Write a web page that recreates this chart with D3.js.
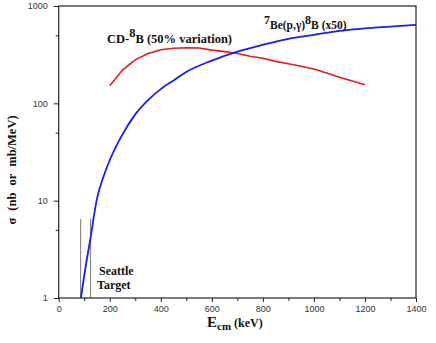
<!DOCTYPE html>
<html lang="en">
<head>
<meta charset="utf-8">
<title>Cross sections</title>
<style>
  html, body { margin: 0; padding: 0; background: white; }
  svg { display: block; }
  .tick text { font-family: "Liberation Sans", Arial, sans-serif; font-size: 9px; fill: #333; }
  .lbl { font-family: "Liberation Serif", "Times New Roman", serif; font-weight: bold; fill: #111; }
</style>
</head>
<body>
<div id="vis"></div>
<script src="https://d3js.org/d3.v7.min.js"></script>
<script>
// energies in keV, cross sections in nb or mb/MeV
var beE   = [87, 100, 125, 150, 175, 200, 250, 300, 350, 400, 450, 500, 600, 700, 800, 900, 1000, 1100, 1200, 1300, 1400];
var beSig = [1, 1.7, 4.2, 10.5, 17.5, 26, 48, 77, 108, 140, 172, 210, 275, 340, 400, 460, 505, 555, 590, 615, 640];

var cdE   = [200, 250, 300, 350, 400, 450, 500, 550, 600, 650, 700, 750, 800, 850, 900, 950, 1000, 1050, 1100, 1150, 1200];
var cdSig = [152, 220, 280, 325, 355, 368, 372, 370, 352, 340, 325, 305, 290, 270, 255, 240, 225, 205, 185, 170, 155];

var targetE = [86, 125];
var targetTop = 6.5;

var xTicks = [0, 200, 400, 600, 800, 1000, 1200, 1400];
var xMinor = [100, 300, 500, 700, 900, 1100, 1300];
var yTicks = [1, 10, 100, 1000];
var yMinor = [5, 50, 500];

var width = 436, height = 343;
var margin = {top: 6, right: 20, bottom: 45, left: 58.7};

var svg = d3.select('#vis').append('svg')
    .attr('width', width)
    .attr('height', height);

var x = d3.scaleLinear().domain([0, 1400]).range([margin.left, width - margin.right]);
var y = d3.scaleLog().domain([1, 1000]).range([height - margin.bottom, margin.top]);

// frame
svg.append('rect')
    .attr('x', x(0)).attr('y', y(1000))
    .attr('width', x(1400) - x(0)).attr('height', y(1) - y(1000))
    .attr('fill', 'none').attr('stroke', '#222').attr('stroke-width', 1.2);

var xAxis = svg.append('g')
    .attr('transform', 'translate(0,' + y(1) + ')')
    .call(d3.axisBottom(x).tickValues(xTicks).tickSize(4).tickPadding(4).tickFormat(d3.format('d')));
xAxis.select('.domain').remove();
xAxis.selectAll('line').attr('stroke', '#222');

svg.append('g')
    .attr('transform', 'translate(0,' + y(1) + ')')
    .call(d3.axisBottom(x).tickValues(xMinor).tickSize(3).tickFormat(''))
    .call(function(g) { g.select('.domain').remove(); g.selectAll('line').attr('stroke', '#222'); });

var yAxis = svg.append('g')
    .attr('transform', 'translate(' + x(0) + ',0)')
    .call(d3.axisLeft(y).tickValues(yTicks).tickSize(5).tickPadding(6).tickFormat(d3.format('d')));
yAxis.select('.domain').remove();
yAxis.selectAll('line').attr('stroke', '#222');

svg.append('g')
    .attr('transform', 'translate(' + x(0) + ',0)')
    .call(d3.axisLeft(y).tickValues(yMinor).tickSize(3).tickFormat(''))
    .call(function(g) { g.select('.domain').remove(); g.selectAll('line').attr('stroke', '#222'); });

// Seattle target lines
svg.selectAll('.target').data(targetE).enter().append('line')
    .attr('x1', function(d) { return x(d); }).attr('x2', function(d) { return x(d); })
    .attr('y1', y(1)).attr('y2', y(targetTop))
    .attr('stroke', '#555').attr('stroke-width', 0.8);

var line = d3.line()
    .x(function(d) { return x(d[0]); })
    .y(function(d) { return y(d[1]); });

svg.append('path')
    .datum(cdE.map(function(e, i) { return [e, cdSig[i]]; }))
    .attr('d', line)
    .attr('fill', 'none').attr('stroke', '#e8191c').attr('stroke-width', 1.6);

svg.append('path')
    .datum(beE.map(function(e, i) { return [e, beSig[i]]; }))
    .attr('d', line.curve(d3.curveMonotoneX))
    .attr('fill', 'none').attr('stroke', '#1a1aff').attr('stroke-width', 1.8);

// labels
var t1 = svg.append('text').attr('class', 'lbl').attr('x', 107).attr('y', 43).attr('font-size', 12.5);
t1.append('tspan').text('CD-');
t1.append('tspan').attr('dy', -6).text('8');
t1.append('tspan').attr('dy', 6).text('B (50% variation)');

var t2 = svg.append('text').attr('class', 'lbl').attr('x', 264).attr('y', 29).attr('font-size', 11.5);
t2.append('tspan').attr('dy', -5).attr('font-size', 12).text('7');
t2.append('tspan').attr('dy', 5).text('Be(p,\u03b3)');
t2.append('tspan').attr('dy', -5).attr('font-size', 12).text('8');
t2.append('tspan').attr('dy', 5).text('B (x50)');

svg.append('text').attr('class', 'lbl').attr('x', 99).attr('y', 275).attr('font-size', 12).text('Seattle');
svg.append('text').attr('class', 'lbl').attr('x', 97).attr('y', 289).attr('font-size', 12).text('Target');

var xt = svg.append('text').attr('class', 'lbl').attr('x', 207).attr('y', 327);
xt.append('tspan').attr('font-size', 15).text('E');
xt.append('tspan').attr('font-size', 11).attr('dy', 3).text('cm');
xt.append('tspan').attr('font-size', 12).attr('dy', -3).attr('dx', 3).text('(keV)');

svg.append('text').attr('class', 'lbl')
    .attr('transform', 'translate(16,170) rotate(-90)')
    .attr('text-anchor', 'middle')
    .attr('font-size', 12.5)
    .attr('word-spacing', 4)
    .text('\u03c3 (nb or mb/MeV)');
</script>
</body>
</html>
